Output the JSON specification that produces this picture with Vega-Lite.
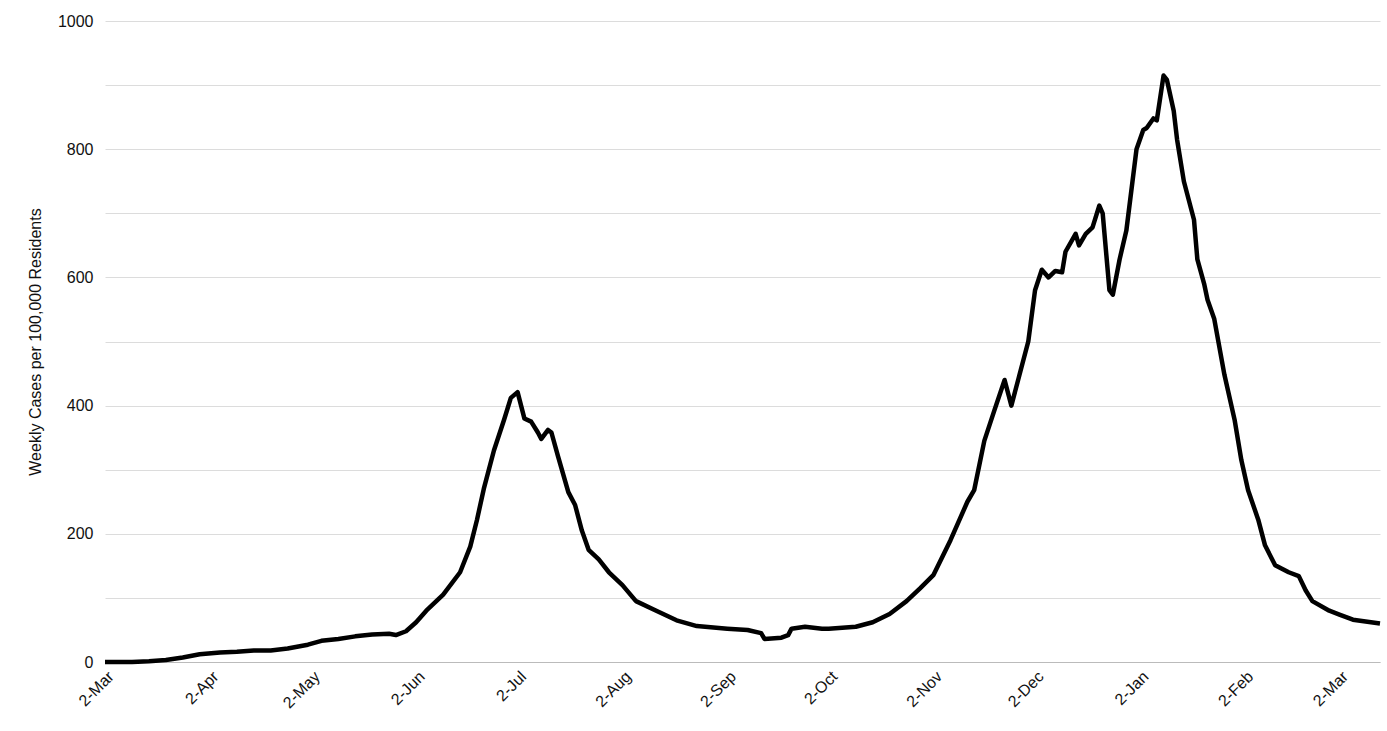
{
  "$schema": "https://vega.github.io/schema/vega-lite/v6.json",
  "width": 1275,
  "height": 641,
  "autosize": "none",
  "padding": {"left": 105, "top": 21, "right": 7, "bottom": 69},
  "background": "white",
  "config": {"view": {"stroke": null}, "font": "Liberation Sans"},
  "data": {
    "values": [
      {"d": "2020-03-02", "v": 0}, {"d": "2020-03-10", "v": 0}, {"d": "2020-03-15", "v": 1},
      {"d": "2020-03-20", "v": 3}, {"d": "2020-03-25", "v": 7}, {"d": "2020-03-30", "v": 12},
      {"d": "2020-04-05", "v": 15}, {"d": "2020-04-10", "v": 16}, {"d": "2020-04-15", "v": 18},
      {"d": "2020-04-20", "v": 18}, {"d": "2020-04-25", "v": 21}, {"d": "2020-05-01", "v": 27},
      {"d": "2020-05-05", "v": 33}, {"d": "2020-05-10", "v": 36}, {"d": "2020-05-15", "v": 40},
      {"d": "2020-05-20", "v": 43}, {"d": "2020-05-25", "v": 44}, {"d": "2020-05-27", "v": 42},
      {"d": "2020-05-30", "v": 48}, {"d": "2020-06-02", "v": 62}, {"d": "2020-06-05", "v": 80},
      {"d": "2020-06-10", "v": 105}, {"d": "2020-06-15", "v": 140}, {"d": "2020-06-18", "v": 180},
      {"d": "2020-06-20", "v": 222}, {"d": "2020-06-22", "v": 270}, {"d": "2020-06-25", "v": 330},
      {"d": "2020-06-28", "v": 378}, {"d": "2020-06-30", "v": 412}, {"d": "2020-07-02", "v": 421},
      {"d": "2020-07-04", "v": 380}, {"d": "2020-07-06", "v": 375}, {"d": "2020-07-08", "v": 358},
      {"d": "2020-07-09", "v": 348}, {"d": "2020-07-11", "v": 362}, {"d": "2020-07-12", "v": 358},
      {"d": "2020-07-14", "v": 320}, {"d": "2020-07-17", "v": 265}, {"d": "2020-07-19", "v": 245},
      {"d": "2020-07-21", "v": 205}, {"d": "2020-07-23", "v": 175}, {"d": "2020-07-26", "v": 160},
      {"d": "2020-07-29", "v": 140}, {"d": "2020-08-02", "v": 120}, {"d": "2020-08-06", "v": 95},
      {"d": "2020-08-12", "v": 80}, {"d": "2020-08-18", "v": 65}, {"d": "2020-08-24", "v": 56},
      {"d": "2020-09-02", "v": 52}, {"d": "2020-09-08", "v": 50}, {"d": "2020-09-12", "v": 45},
      {"d": "2020-09-13", "v": 36}, {"d": "2020-09-18", "v": 38}, {"d": "2020-09-20", "v": 42},
      {"d": "2020-09-21", "v": 52}, {"d": "2020-09-25", "v": 55}, {"d": "2020-09-30", "v": 52},
      {"d": "2020-10-02", "v": 52}, {"d": "2020-10-10", "v": 55}, {"d": "2020-10-15", "v": 62},
      {"d": "2020-10-20", "v": 75}, {"d": "2020-10-25", "v": 95}, {"d": "2020-10-29", "v": 115},
      {"d": "2020-11-02", "v": 136}, {"d": "2020-11-07", "v": 190}, {"d": "2020-11-12", "v": 250},
      {"d": "2020-11-14", "v": 268}, {"d": "2020-11-17", "v": 345}, {"d": "2020-11-20", "v": 393},
      {"d": "2020-11-23", "v": 440}, {"d": "2020-11-25", "v": 400}, {"d": "2020-11-27", "v": 440},
      {"d": "2020-11-30", "v": 500}, {"d": "2020-12-02", "v": 580}, {"d": "2020-12-04", "v": 612},
      {"d": "2020-12-06", "v": 600}, {"d": "2020-12-08", "v": 610}, {"d": "2020-12-10", "v": 608},
      {"d": "2020-12-11", "v": 640}, {"d": "2020-12-14", "v": 668}, {"d": "2020-12-15", "v": 650},
      {"d": "2020-12-17", "v": 668}, {"d": "2020-12-19", "v": 678}, {"d": "2020-12-21", "v": 712},
      {"d": "2020-12-22", "v": 700}, {"d": "2020-12-24", "v": 580}, {"d": "2020-12-25", "v": 573},
      {"d": "2020-12-27", "v": 628}, {"d": "2020-12-29", "v": 673}, {"d": "2021-01-01", "v": 800},
      {"d": "2021-01-03", "v": 830}, {"d": "2021-01-04", "v": 833}, {"d": "2021-01-06", "v": 848},
      {"d": "2021-01-07", "v": 845}, {"d": "2021-01-09", "v": 915}, {"d": "2021-01-10", "v": 908},
      {"d": "2021-01-12", "v": 860}, {"d": "2021-01-13", "v": 815}, {"d": "2021-01-15", "v": 750},
      {"d": "2021-01-18", "v": 690}, {"d": "2021-01-19", "v": 628}, {"d": "2021-01-21", "v": 590},
      {"d": "2021-01-22", "v": 565}, {"d": "2021-01-24", "v": 535}, {"d": "2021-01-27", "v": 448},
      {"d": "2021-01-30", "v": 378}, {"d": "2021-02-01", "v": 315}, {"d": "2021-02-03", "v": 268},
      {"d": "2021-02-06", "v": 222}, {"d": "2021-02-08", "v": 182}, {"d": "2021-02-11", "v": 151},
      {"d": "2021-02-15", "v": 140}, {"d": "2021-02-18", "v": 134}, {"d": "2021-02-20", "v": 112},
      {"d": "2021-02-22", "v": 95}, {"d": "2021-02-27", "v": 80}, {"d": "2021-03-02", "v": 74},
      {"d": "2021-03-06", "v": 66}, {"d": "2021-03-14", "v": 60}
    ]
  },
  "mark": {"type": "line", "color": "black", "strokeWidth": 4.5, "strokeJoin": "round"},
  "encoding": {
    "x": {
      "field": "d", "type": "temporal",
      "scale": {"type": "utc", "domain": ["2020-03-02", "2021-03-14"]},
      "axis": {
        "title": null, "grid": false, "ticks": false,
        "values": ["2020-03-02","2020-04-02","2020-05-02","2020-06-02","2020-07-02","2020-08-02","2020-09-02","2020-10-02","2020-11-02","2020-12-02","2021-01-02","2021-02-02","2021-03-02"],
        "labelExpr": "utcFormat(datum.value, '%-d-%b')",
        "labelAngle": -45, "labelFontSize": 16, "labelColor": "#111",
        "domainColor": "#bbb", "labelPadding": 6
      }
    },
    "y": {
      "field": "v", "type": "quantitative",
      "scale": {"domain": [0, 1000], "nice": false},
      "axis": {
        "title": "Weekly Cases per 100,000 Residents", "titleFontSize": 16, "titleFontWeight": "normal",
        "titleColor": "#111", "titlePadding": 14,
        "values": [0,100,200,300,400,500,600,700,800,900,1000],
        "labelExpr": "datum.value % 200 == 0 ? datum.value : ''",
        "labelFontSize": 16, "labelColor": "#111", "labelPadding": 12,
        "domain": false, "ticks": false, "gridColor": "#dcdcdc", "gridWidth": 1
      }
    }
  }
}
